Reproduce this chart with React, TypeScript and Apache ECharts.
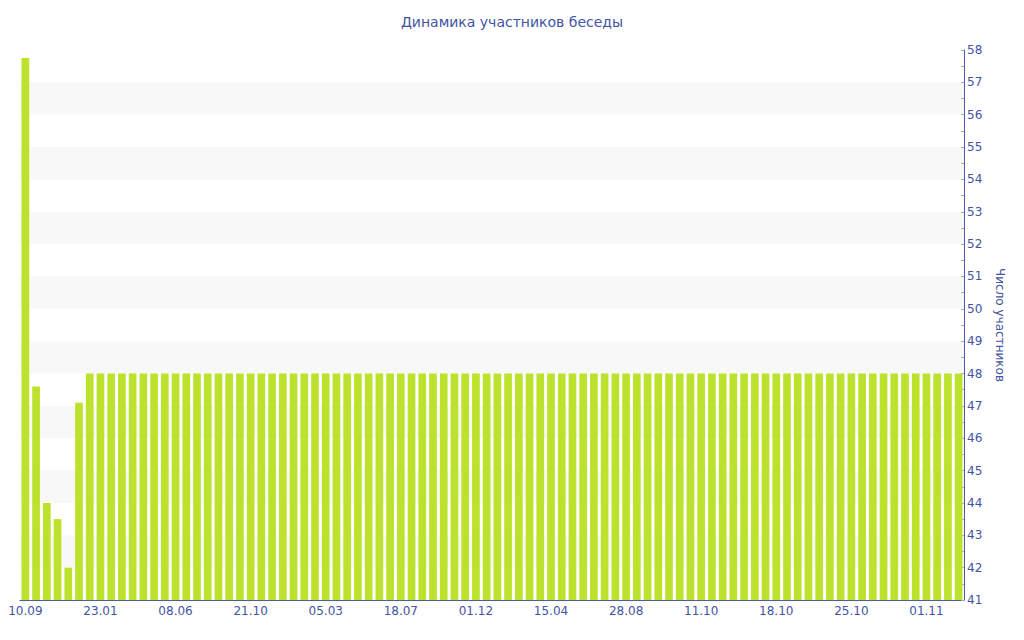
import React, { useEffect, useRef } from "react";
import * as echarts from "echarts";

const titleText = "Динамика участников беседы";
const yAxisName = "Число участников";

const categories: string[] = [
  "10.09", "29.09", "18.10", "06.11", "25.11", "14.12", "03.01",
  "23.01", "11.02", "02.03", "22.03", "10.04", "30.04", "19.05",
  "08.06", "27.06", "17.07", "05.08", "25.08", "13.09", "02.10",
  "21.10", "09.11", "29.11", "18.12", "07.01", "26.01", "14.02",
  "05.03", "24.03", "13.04", "02.05", "22.05", "10.06", "29.06",
  "18.07", "06.08", "26.08", "14.09", "04.10", "23.10", "12.11",
  "01.12", "20.12", "09.01", "28.01", "17.02", "08.03", "27.03",
  "15.04", "04.05", "24.05", "12.06", "02.07", "21.07", "09.08",
  "28.08", "03.09", "09.09", "16.09", "22.09", "28.09", "05.10",
  "11.10", "12.10", "13.10", "14.10", "15.10", "16.10", "17.10",
  "18.10", "19.10", "20.10", "21.10", "22.10", "23.10", "24.10",
  "25.10", "26.10", "27.10", "28.10", "29.10", "30.10", "31.10",
  "01.11", "02.11", "03.11", "04.11",
];

const members: number[] = [
  57.75, 47.6, 44.0, 43.5, 42.0, 47.1, 48,
  48, 48, 48, 48, 48, 48, 48,
  48, 48, 48, 48, 48, 48, 48,
  48, 48, 48, 48, 48, 48, 48,
  48, 48, 48, 48, 48, 48, 48,
  48, 48, 48, 48, 48, 48, 48,
  48, 48, 48, 48, 48, 48, 48,
  48, 48, 48, 48, 48, 48, 48,
  48, 48, 48, 48, 48, 48, 48,
  48, 48, 48, 48, 48, 48, 48,
  48, 48, 48, 48, 48, 48, 48,
  48, 48, 48, 48, 48, 48, 48,
  48, 48, 48, 48,
];

const yMin = 41;
const yMax = 58;

export default function App() {
  const ref = useRef<HTMLDivElement>(null);
  useEffect(() => {
    if (!ref.current) return;
    const chart = echarts.init(ref.current, undefined, { renderer: "svg" });
    const textColor = "#3f54a3";
    const font = "DejaVu Sans";
    chart.setOption({
      animation: false,
      title: {
        text: titleText,
        left: "center",
        top: 10,
        textStyle: { color: textColor, fontFamily: font, fontSize: 14, fontWeight: "normal" },
      },
      grid: { left: 20, right: 60, top: 50, bottom: 40, containLabel: false },
      xAxis: {
        type: "category",
        data: categories,
        boundaryGap: true,
        axisLine: { lineStyle: { color: "#4a5ca3", width: 1 } },
        axisTick: { alignWithLabel: true, interval: 6, length: 4, lineStyle: { color: "#9aa3c4" } },
        axisLabel: { interval: 6, color: textColor, fontFamily: font, fontSize: 12, margin: 5 },
        splitLine: { show: false },
      },
      yAxis: {
        type: "value",
        position: "right",
        min: yMin,
        max: yMax,
        interval: 1,
        name: yAxisName,
        nameLocation: "middle",
        nameRotate: -90,
        nameGap: 30,
        nameTextStyle: { color: textColor, fontFamily: font, fontSize: 12 },
        axisLine: { show: true, lineStyle: { color: "#4a5ca3", width: 1 } },
        axisTick: { show: true, inside: true, length: 3, lineStyle: { color: "#aaaaaa" } },
        minorTick: { show: true, splitNumber: 2, length: 3, lineStyle: { color: "#aaaaaa" } },
        axisLabel: { color: textColor, fontFamily: font, fontSize: 12, margin: 3 },
        splitLine: { show: false },
        splitArea: { show: true, areaStyle: { color: ["rgba(255,255,255,0)", "#f8f8f8"] } },
      },
      series: [
        {
          type: "bar",
          data: members,
          barCategoryGap: "28%",
          itemStyle: { color: "#bde22e" },
        },
      ],
    });
    return () => chart.dispose();
  }, []);
  return (
    <div
      ref={ref}
      style={{ position: "absolute", left: 0, top: 0, width: 1024, height: 640 }}
    />
  );
}
